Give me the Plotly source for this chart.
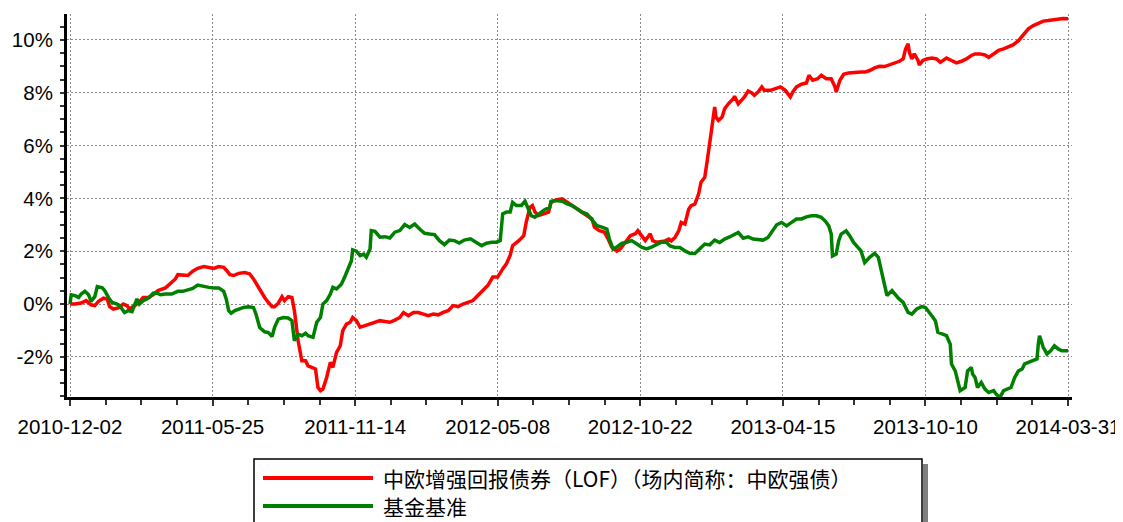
import plotly.graph_objects as go

# ---- data (trading-day index, cumulative return %) ----
tick_days = [0, 115, 230, 345, 460, 575, 690, 805]
tick_labels = ["2010-12-02", "2011-05-25", "2011-11-14", "2012-05-08",
               "2012-10-22", "2013-04-15", "2013-10-10", "2014-03-31"]
y_tickvals = [-2, 0, 2, 4, 6, 8, 10]
y_ticktext = ["-2%", "0%", "2%", "4%", "6%", "8%", "10%"]

fund_name = "中欧增强回报债券（LOF）（场内简称：中欧强债）"
bench_name = "基金基准"

fund_day = [0, 4, 9, 13, 17, 20, 23, 27, 30, 32, 35, 39, 43, 46, 48, 51, 55, 59, 63, 67,
            71, 77, 81, 85, 87, 91, 95, 99, 103, 108, 112, 116, 120, 124, 126, 129, 132, 136, 141, 145,
            148, 152, 155, 157, 160, 163, 165, 168, 171, 173, 176, 179, 181, 184, 187, 190, 192, 195, 198, 200,
            202, 204, 207, 210, 212, 215, 218, 220, 223, 226, 228, 231, 234, 238, 242, 246, 250, 254, 258, 262,
            266, 269, 273, 277, 281, 285, 289, 293, 297, 301, 305, 309, 313, 317, 321, 325, 329, 333, 337, 341,
            345, 349, 352, 355, 357, 362, 366, 368, 371, 373, 375, 378, 382, 386, 388, 392, 397, 401, 405, 409,
            413, 417, 421, 423, 427, 431, 434, 437, 441, 444, 448, 452, 456, 458, 461, 464, 468, 470, 473, 477,
            480, 483, 485, 488, 491, 493, 496, 499, 501, 504, 507, 509, 512, 514, 516, 517, 520, 521, 523, 526,
            528, 531, 535, 536, 539, 542, 544, 547, 550, 552, 555, 558, 560, 565, 569, 573, 577, 581, 583, 586,
            590, 594, 596, 599, 603, 606, 610, 614, 617, 618, 621, 624, 628, 633, 638, 641, 645, 649, 653, 657,
            661, 665, 669, 672, 674, 676, 677, 679, 681, 684, 685, 688, 691, 695, 699, 702, 704, 707, 711, 715,
            719, 723, 727, 730, 734, 738, 741, 745, 749, 753, 757, 761, 765, 769, 773, 777, 781, 785, 789, 793,
            797, 801, 805]
fund_ret = [0.00, 0.00, 0.04, 0.13, -0.03, -0.06, 0.10, 0.22, 0.19, -0.10, -0.19, -0.15, 0.00, -0.06, -0.19, -0.10, 0.03, 0.25, 0.25, 0.35,
            0.51, 0.61, 0.76, 0.95, 1.11, 1.08, 1.08, 1.24, 1.35, 1.42, 1.39, 1.35, 1.42, 1.39, 1.29, 1.11, 1.08, 1.16, 1.19, 1.14,
            0.95, 0.63, 0.35, 0.25, 0.06, -0.10, -0.10, 0.03, 0.28, 0.13, 0.28, 0.25, -0.25, -1.39, -2.15, -2.15, -2.34, -2.40, -2.46, -3.16,
            -3.28, -3.22, -2.78, -2.21, -2.40, -1.83, -1.58, -1.01, -0.76, -0.69, -0.51, -0.63, -0.88, -0.82, -0.76, -0.69, -0.63, -0.66, -0.69, -0.61,
            -0.51, -0.32, -0.44, -0.32, -0.32, -0.38, -0.44, -0.38, -0.41, -0.32, -0.25, -0.06, -0.10, 0.00, 0.07, 0.13, 0.32, 0.51, 0.70, 1.02,
            1.02, 1.33, 1.52, 1.84, 2.21, 2.40, 2.59, 3.10, 3.66, 3.73, 3.48, 3.35, 3.41, 3.48, 3.85, 3.94, 3.98, 3.85, 3.73, 3.60,
            3.48, 3.35, 3.22, 2.91, 2.78, 2.72, 2.47, 2.15, 2.00, 2.09, 2.34, 2.59, 2.66, 2.78, 2.59, 2.40, 2.66, 2.40, 2.34, 2.37,
            2.39, 2.46, 2.39, 2.52, 2.77, 3.09, 3.03, 3.59, 3.72, 3.78, 4.16, 4.61, 4.80, 5.43, 6.25, 6.44, 7.46, 7.08, 6.95, 7.08,
            7.39, 7.58, 7.77, 7.86, 7.58, 7.71, 7.84, 8.06, 7.99, 7.90, 8.03, 8.22, 8.09, 8.09, 8.15, 8.22, 8.09, 7.84, 8.03, 8.22,
            8.32, 8.37, 8.66, 8.47, 8.53, 8.66, 8.53, 8.53, 8.22, 8.03, 8.47, 8.70, 8.75, 8.78, 8.78, 8.78, 8.84, 8.94, 9.00, 8.99,
            9.05, 9.12, 9.19, 9.28, 9.66, 9.85, 9.53, 9.28, 9.47, 9.22, 9.05, 9.22, 9.28, 9.31, 9.28, 9.15, 9.22, 9.31, 9.22, 9.13,
            9.19, 9.28, 9.41, 9.47, 9.47, 9.43, 9.34, 9.47, 9.60, 9.66, 9.75, 9.82, 9.97, 10.20, 10.42, 10.54, 10.61, 10.71, 10.73, 10.76,
            10.80, 10.81, 10.80]

bench_day = [0, 1, 4, 7, 9, 12, 15, 17, 20, 22, 26, 28, 31, 34, 38, 40, 44, 47, 50, 52,
             54, 56, 59, 62, 64, 67, 70, 73, 77, 82, 87, 91, 95, 99, 103, 108, 112, 116, 120, 124,
             126, 128, 130, 133, 136, 140, 144, 148, 150, 153, 157, 160, 163, 165, 168, 172, 176, 179, 181, 184,
             187, 190, 192, 196, 199, 202, 204, 207, 210, 212, 215, 219, 222, 224, 227, 228, 231, 234, 237, 239,
             242, 243, 246, 250, 254, 258, 262, 266, 270, 274, 278, 282, 286, 290, 294, 298, 302, 306, 310, 314,
             318, 323, 327, 332, 336, 340, 344, 347, 349, 352, 355, 357, 360, 364, 367, 370, 372, 375, 378, 382,
             384, 387, 388, 392, 397, 401, 405, 409, 413, 417, 419, 422, 425, 429, 433, 435, 438, 441, 445, 449,
             453, 457, 461, 465, 469, 473, 477, 481, 484, 488, 492, 496, 500, 504, 508, 512, 516, 520, 524, 528,
             532, 536, 539, 543, 547, 551, 555, 559, 563, 567, 570, 574, 578, 582, 586, 590, 594, 598, 602, 606,
             609, 612, 614, 615, 618, 620, 622, 626, 629, 632, 636, 638, 641, 645, 649, 652, 655, 657, 659, 663,
             665, 668, 672, 676, 679, 683, 687, 690, 694, 698, 700, 704, 707, 710, 711, 714, 716, 718, 722, 724,
             727, 728, 730, 732, 735, 738, 741, 745, 747, 750, 753, 757, 759, 762, 765, 768, 770, 776, 780, 781,
             782, 785, 788, 791, 794, 797, 800, 805]
bench_ret = [0.00, 0.35, 0.32, 0.25, 0.38, 0.48, 0.35, 0.10, 0.28, 0.66, 0.61, 0.51, 0.25, 0.06, 0.00, -0.06, -0.32, -0.25, -0.29, -0.06,
             0.19, 0.00, 0.13, 0.19, 0.25, 0.41, 0.42, 0.35, 0.38, 0.38, 0.48, 0.48, 0.53, 0.59, 0.72, 0.66, 0.63, 0.61, 0.61, 0.48,
             0.19, -0.25, -0.35, -0.25, -0.19, -0.13, -0.10, -0.13, -0.38, -0.89, -1.05, -1.08, -1.23, -0.88, -0.57, -0.51, -0.53, -0.63, -1.39, -1.14,
             -1.20, -1.11, -1.20, -1.26, -0.69, -0.51, 0.00, 0.13, 0.38, 0.63, 0.57, 0.76, 1.07, 1.33, 1.64, 2.05, 2.00, 1.83, 1.89, 1.77,
             2.08, 2.78, 2.75, 2.53, 2.55, 2.50, 2.72, 2.78, 3.01, 2.90, 3.03, 2.84, 2.68, 2.65, 2.63, 2.40, 2.25, 2.42, 2.40, 2.31,
             2.42, 2.47, 2.34, 2.21, 2.30, 2.34, 2.34, 2.40, 3.41, 3.48, 3.48, 3.85, 3.73, 3.73, 3.89, 3.60, 3.35, 3.29, 3.41, 3.54,
             3.60, 3.66, 3.89, 3.92, 3.89, 3.79, 3.73, 3.60, 3.48, 3.41, 3.29, 3.10, 2.97, 2.91, 2.84, 2.47, 2.09, 2.15, 2.30, 2.34,
             2.40, 2.28, 2.15, 2.09, 2.15, 2.25, 2.34, 2.34, 2.20, 2.14, 2.14, 2.01, 1.92, 1.91, 2.08, 2.27, 2.24, 2.42, 2.33, 2.46,
             2.54, 2.65, 2.71, 2.49, 2.54, 2.46, 2.43, 2.42, 2.52, 2.77, 3.00, 3.09, 2.96, 3.09, 3.22, 3.22, 3.30, 3.34, 3.34, 3.28,
             3.15, 2.96, 2.65, 1.82, 1.89, 2.39, 2.65, 2.77, 2.58, 2.33, 2.14, 2.01, 1.57, 1.77, 1.92, 1.77, 1.14, 0.76, 0.32, 0.51,
             0.38, 0.23, 0.06, -0.32, -0.38, -0.19, -0.10, -0.13, -0.38, -0.63, -1.07, -1.14, -1.20, -1.52, -2.27, -2.53, -2.90, -3.28, -3.16, -2.53,
             -2.40, -2.65, -2.78, -3.16, -2.97, -3.22, -3.35, -3.28, -3.41, -3.54, -3.28, -3.22, -3.16, -2.78, -2.53, -2.46, -2.27, -2.15, -2.08, -1.52,
             -1.20, -1.64, -1.89, -1.77, -1.58, -1.70, -1.77, -1.77]

RED = "#FF0000"
GREEN = "#008000"

fig = go.Figure()
fig.add_trace(go.Scatter(x=fund_day, y=fund_ret, mode="lines", name=fund_name,
                         line=dict(color=RED, width=3.5), showlegend=False))
fig.add_trace(go.Scatter(x=bench_day, y=bench_ret, mode="lines", name=bench_name,
                         line=dict(color=GREEN, width=3.5), showlegend=False))

# the page body adds an 8px offset, so the figure is sized to the remaining window
OFF = 8
W, H = 1123 - OFF, 522 - OFF
L, T = 67 - OFF, 14 - OFF
R, B = W - (1072 - OFF), H - (397 - OFF)
PW, PH = W - L - R, H - T - B


def px(xp):
    """page x (window pixels) -> paper fraction"""
    return (xp - OFF - L) / PW


def py(yp):
    """page y (window pixels) -> paper fraction"""
    return (H - B - (yp - OFF)) / PH


# custom legend box (long line samples as in the reference)
shapes = [
    dict(type="rect", xref="paper", yref="paper", x0=px(923), x1=px(928), y0=py(540), y1=py(464),
         fillcolor="#7f7f7f", line=dict(width=0), layer="above"),
    dict(type="rect", xref="paper", yref="paper", x0=px(254), x1=px(922), y0=py(540), y1=py(459),
         fillcolor="white", line=dict(color="black", width=1.5), layer="above"),
    dict(type="line", xref="paper", yref="paper", x0=px(263), x1=px(373), y0=py(478), y1=py(478),
         line=dict(color=RED, width=4), layer="above"),
    dict(type="line", xref="paper", yref="paper", x0=px(263), x1=px(373), y0=py(506), y1=py(506),
         line=dict(color=GREEN, width=4), layer="above"),
]
legend_font = dict(size=21, color="black", family="Noto Sans CJK SC, sans-serif")
annotations = [
    dict(xref="paper", yref="paper", x=px(381), y=py(478), text=fund_name,
         showarrow=False, xanchor="left", yanchor="middle", font=legend_font),
    dict(xref="paper", yref="paper", x=px(381), y=py(506), text=bench_name,
         showarrow=False, xanchor="left", yanchor="middle", font=legend_font),
]

grid_dash = "2px,2px"
fig.update_layout(
    width=W, height=H,
    margin=dict(l=L, r=R, t=T, b=B, autoexpand=False),
    paper_bgcolor="white", plot_bgcolor="white",
    font=dict(family="Liberation Sans, Arial, sans-serif", size=20, color="black"),
    shapes=shapes, annotations=annotations,
    xaxis=dict(
        automargin=False,
        range=[-2.42, 808.2], tickmode="array", tickvals=tick_days, ticktext=tick_labels,
        tickfont=dict(size=20.5), ticklabeloverflow="allow",
        showgrid=True, gridcolor="#8a8a8a", gridwidth=1.2, griddash=grid_dash,
        zeroline=False, showline=True, linecolor="black", linewidth=3,
        ticks="outside", ticklen=6, tickwidth=1.5, tickcolor="#333333",
        ticklabelstandoff=3,
        minor=dict(tickmode="linear", tick0=0, dtick=28.75, ticks="outside", ticklen=5,
                   tickwidth=1.5, tickcolor="#333333", showgrid=False),
    ),
    yaxis=dict(
        automargin=False,
        range=[-3.52, 10.98], tickmode="array", tickvals=y_tickvals, ticktext=y_ticktext,
        tickfont=dict(size=20.5),
        showgrid=True, gridcolor="#8a8a8a", gridwidth=1.2, griddash=grid_dash,
        zeroline=False, showline=True, linecolor="black", linewidth=3,
        ticks="outside", ticklen=4, tickwidth=1.5, tickcolor="#333333",
        ticklabelstandoff=3,
        minor=dict(tickmode="linear", tick0=0, dtick=0.5, ticks="outside", ticklen=4,
                   tickwidth=1.5, tickcolor="#333333", showgrid=False),
    ),
)

fig.write_html("out.html")
